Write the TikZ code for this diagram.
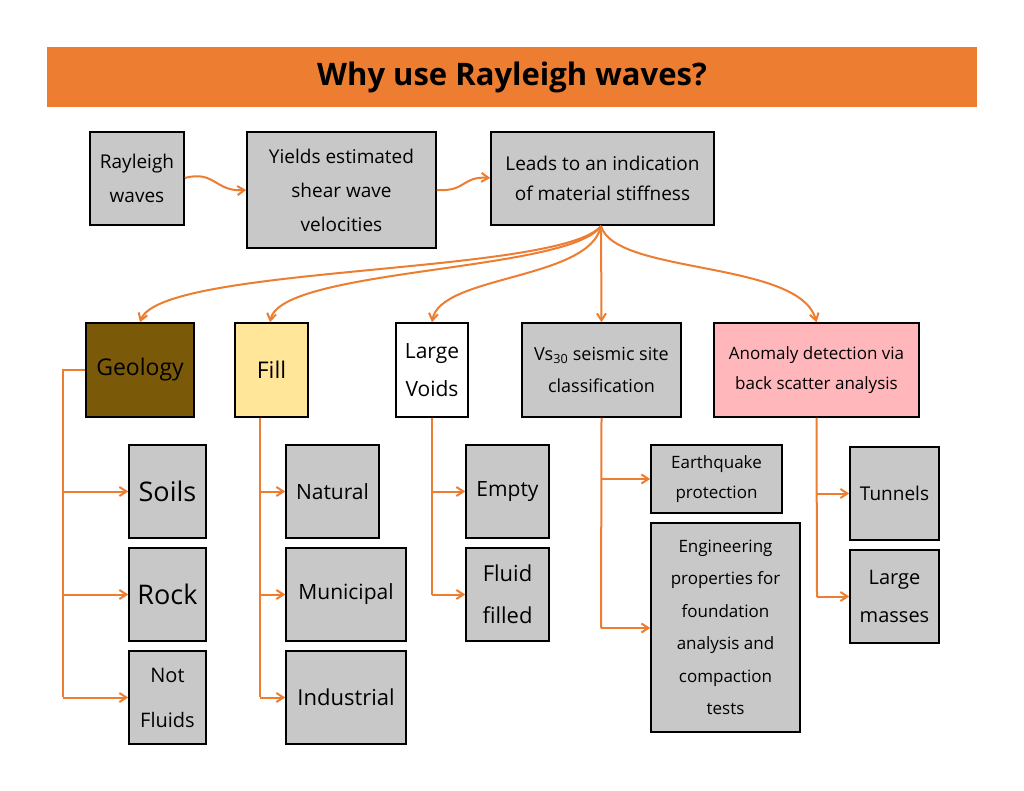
\documentclass[tikz,border=0pt]{standalone}
\usepackage{fontspec}
\setmainfont{Open Sans}
\usetikzlibrary{arrows.meta}
\definecolor{org}{HTML}{ED7D31}
\definecolor{gbox}{HTML}{C8C8C8}
\definecolor{brown}{HTML}{7A5A08}
\definecolor{yel}{HTML}{FFE699}
\definecolor{pnk}{HTML}{FFB7BC}
\begin{document}
\begin{tikzpicture}[x=1pt,y=-1pt,
 box/.style={draw=black,line width=1.5pt,fill=gbox,align=center,inner sep=0pt,font=\fontsize{19}{34}\selectfont},
 ar/.style={draw=org,line width=2pt,-{Straight Barb[length=7pt,width=9pt]}},
 ln/.style={draw=org,line width=2pt}]
\useasboundingbox (0,0) rectangle (1024,791);
\fill[white] (0,0) rectangle (1024,791);
\def\bx#1#2#3#4#5#6{\node[box,minimum width=#4-#2,minimum height=#5-#3,#6] (#1) at ({(#2+#4)/2},{(#3+#5)/2})}
\node[fill=org,minimum width=930,minimum height=60,inner sep=0pt,font=\fontsize{31}{36}\selectfont\bfseries] (title) at (512,77) {Why use Rayleigh waves?};
\bx{rw}{90}{132}{184}{225}{}{Rayleigh\\waves};
\bx{ys}{247}{132}{436}{248}{}{Yields estimated\\shear wave\\velocities};
\bx{ld}{491}{132}{714}{225}{font=\fontsize{19}{30}\selectfont}{Leads to an indication\\of material stiffness};
\bx{geo}{86}{323}{194}{417}{fill=brown,font=\fontsize{23}{28}\selectfont}{Geology};
\bx{fill}{235}{323}{308}{417}{fill=yel,font=\fontsize{23}{28}\selectfont}{Fill};
\bx{lv}{396}{323}{468}{417}{fill=white,font=\fontsize{21}{38}\selectfont}{Large\\Voids};
\bx{vs}{522}{323}{681}{417}{font=\fontsize{18}{32}\selectfont}{Vs\textsubscript{30} seismic site\\classification};
\bx{an}{714}{323}{919}{417}{fill=pnk,font=\fontsize{17}{30}\selectfont}{Anomaly detection via\\back scatter analysis};
\bx{soil}{129}{445}{206}{538}{font=\fontsize{27}{30}\selectfont}{Soils};
\bx{rock}{129}{548}{206}{641}{font=\fontsize{27}{30}\selectfont}{Rock};
\bx{nf}{129}{651}{206}{744}{font=\fontsize{20}{45}\selectfont}{Not\\Fluids};
\bx{nat}{286}{445}{379}{538}{font=\fontsize{21}{26}\selectfont}{Natural};
\bx{mun}{286}{548}{406}{641}{font=\fontsize{21}{26}\selectfont}{Municipal};
\bx{ind}{286}{651}{406}{744}{font=\fontsize{22}{26}\selectfont}{Industrial};
\bx{emp}{466}{445}{549}{538}{font=\fontsize{21}{26}\selectfont}{Empty};
\bx{ff}{466}{548}{549}{641}{font=\fontsize{22}{42}\selectfont}{Fluid\\filled};
\bx{eq}{651}{445}{782}{513}{font=\fontsize{17}{30}\selectfont}{Earthquake\\protection};
\bx{eng}{651}{523}{800}{732}{font=\fontsize{17}{32.5}\selectfont}{Engineering\\properties for\\foundation\\analysis and\\compaction\\tests};
\bx{tun}{850}{447}{939}{540}{font=\fontsize{19}{26}\selectfont}{Tunnels};
\bx{lm}{850}{550}{939}{643}{font=\fontsize{20}{38}\selectfont}{Large\\masses};
% top row
\draw[ar] (rw.east|-0,178) .. controls (215,170) and (215,192) .. (ys.west|-0,190);
\draw[ar] (ys.east|-0,190) .. controls (466,192) and (462,176) .. (ld.west|-0,178);
% fan
\coordinate (c) at (601,226);
\draw[ar] (c) .. controls (560,275) and (160,265) .. (geo.north-|140,0);
\draw[ar] (c) .. controls (570,272) and (280,268) .. (fill.north-|270,0);
\draw[ar] (c) .. controls (590,280) and (440,275) .. (lv.north);
\draw[ar] (c) -- (vs.north);
\draw[ar] (c) .. controls (615,275) and (800,260) .. (an.north);
% geology
\coordinate (g0) at (63,370);
\draw[ln] (geo.west|-g0) -- (g0) -- (63,697);
\foreach \b in {soil,rock,nf} \draw[ar] (63,0|-\b) -- (\b.west);
% fill
\draw[ln] (fill.south-|260,0) -- (260,697);
\foreach \b in {nat,mun,ind} \draw[ar] (260,0|-\b) -- (\b.west);
% voids
\draw[ln] (lv.south) -- (432,595);
\foreach \b in {emp,ff} \draw[ar] (432,0|-\b) -- (\b.west);
% vs30
\draw[ln] (vs.south) -- (601,628);
\draw[ar] (601,479) -- (eq.west|-0,479);
\draw[ar] (601,628) -- (eng.west|-0,628);
% anomaly
\draw[ln] (an.south) -- (817,597);
\foreach \b in {tun,lm} \draw[ar] (817,0|-\b) -- (\b.west);
\end{tikzpicture}
\end{document}
